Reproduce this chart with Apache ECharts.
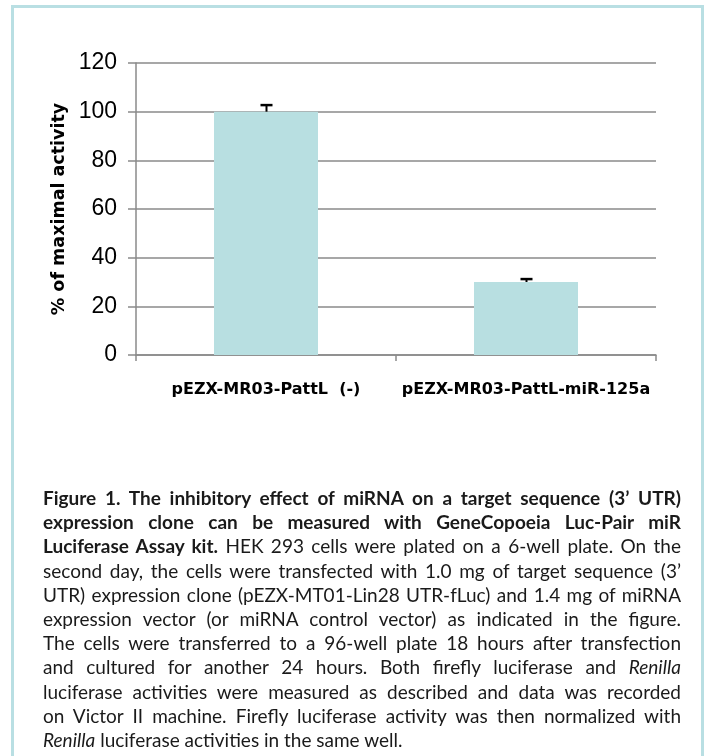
<!DOCTYPE html>
<html>
<head>
<meta charset="utf-8">
<script src="https://cdn.jsdelivr.net/npm/echarts@6/dist/echarts.min.js"></script>
<style>
  html, body { margin: 0; padding: 0; background: #fff; overflow: hidden; }
  #wrap { position: relative; width: 705px; height: 756px; overflow: hidden; background: #fff; }
  #chart { position: absolute; left: 0; top: 0; width: 705px; height: 756px; }
  #frame { position: absolute; left: 11px; top: 5px; width: 687px; height: 800px; border: 3px solid #b9dfe3; box-sizing: content-box; pointer-events: none; }
  #caption { position: absolute; left: 43px; top: 486px; width: 638px; font-family: Lato, "Open Sans", sans-serif; font-size: 19px; line-height: 24.2px; color: #1a1a1a; }
  #caption div { text-align: justify; text-align-last: justify; white-space: nowrap; }
  #caption div.last { text-align-last: left; }
</style>
</head>
<body>
<div id="wrap">
  <div id="frame"></div>
  <div id="chart"></div>
  <div id="caption"></div>
</div>
<script>
// ---- data ----
const categories = ['pEZX-MR03-PattL  (-)', 'pEZX-MR03-PattL-miR-125a'];
const values = [100, 30];
const errPlus = [2.7, 1.2];
const yMin = 0, yMax = 120, yInterval = 20;
const yTitle = '% of maximal activity';
const captionLines = [
  '<b>Figure 1. The inhibitory effect of miRNA on a target sequence (3\u2019 UTR)</b>',
  '<b>expression clone can be measured with GeneCopoeia Luc-Pair miR</b>',
  '<b>Luciferase Assay kit.</b> HEK 293 cells were plated on a 6-well plate. On the',
  'second day, the cells were transfected with 1.0 mg of target sequence (3\u2019',
  'UTR) expression clone (pEZX-MT01-Lin28 UTR-fLuc) and 1.4 mg of miRNA',
  'expression vector (or miRNA control vector) as indicated in the figure.',
  'The cells were transferred to a 96-well plate 18 hours after transfection',
  'and cultured for another 24 hours. Both firefly luciferase and <i>Renilla</i>',
  'luciferase activities were measured as described and data was recorded',
  'on Victor II machine. Firefly luciferase activity was then normalized with',
  '<i>Renilla</i> luciferase activities in the same well.'
];

// ---- caption ----
const cap = document.getElementById('caption');
cap.innerHTML = captionLines.map((l, i) =>
  '<div' + (i === captionLines.length - 1 ? ' class="last"' : '') + '>' + l + '</div>').join('');

// ---- chart ----
const chart = echarts.init(document.getElementById('chart'), null, { renderer: 'canvas' });
const gridColor = '#8a8a8a';
const errData = categories.map((c, i) => [i, values[i], errPlus[i]]);

chart.setOption({
  backgroundColor: 'transparent',
  animation: false,
  grid: { left: 136, right: 49, top: 63, bottom: 401, containLabel: false },
  xAxis: {
    type: 'category',
    data: categories,
    axisLine: { lineStyle: { color: gridColor, width: 1.5 } },
    axisTick: { show: true, length: 6, lineStyle: { color: gridColor, width: 1.5 } },
    axisLabel: {
      interval: 0, hideOverlap: false,
      margin: 27, color: '#000', fontFamily: 'DejaVu Sans', fontWeight: 'bold', fontSize: 16
    }
  },
  yAxis: {
    type: 'value',
    min: yMin, max: yMax, interval: yInterval,
    name: yTitle,
    nameLocation: 'middle',
    nameGap: 68,
    nameMoveOverlap: false,
    nameRotate: 90,
    nameTextStyle: { color: '#000', fontFamily: 'DejaVu Sans', fontWeight: 'bold', fontSize: 17.5 },
    axisLine: { show: true, lineStyle: { color: gridColor, width: 1.5 } },
    axisTick: { show: true, length: 8, lineStyle: { color: gridColor, width: 1.5 } },
    splitLine: { show: true, lineStyle: { color: gridColor, width: 1.5 } },
    axisLabel: { margin: 19, color: '#000', fontFamily: 'Liberation Sans, Arial', fontSize: 23 }
  },
  series: [
    {
      type: 'bar',
      data: values,
      barWidth: '40%',
      itemStyle: { color: '#b8dfe1' },
      z: 2
    },
    {
      type: 'custom',
      data: errData,
      z: 3,
      renderItem: function (params, api) {
        const x = api.value(0);
        const v = api.value(1);
        const e = api.value(2);
        const p0 = api.coord([x, v]);
        const p1 = api.coord([x, v + e]);
        const cx = Math.round(p0[0]) + 0.5;
        return {
          type: 'group',
          children: [
            { type: 'line', shape: { x1: cx, y1: p0[1], x2: cx, y2: p1[1] },
              style: { stroke: '#000', lineWidth: 2 } },
            { type: 'line', shape: { x1: cx - 6, y1: p1[1], x2: cx + 6, y2: p1[1] },
              style: { stroke: '#000', lineWidth: 2.5 } }
          ]
        };
      }
    }
  ]
});
</script>
</body>
</html>
